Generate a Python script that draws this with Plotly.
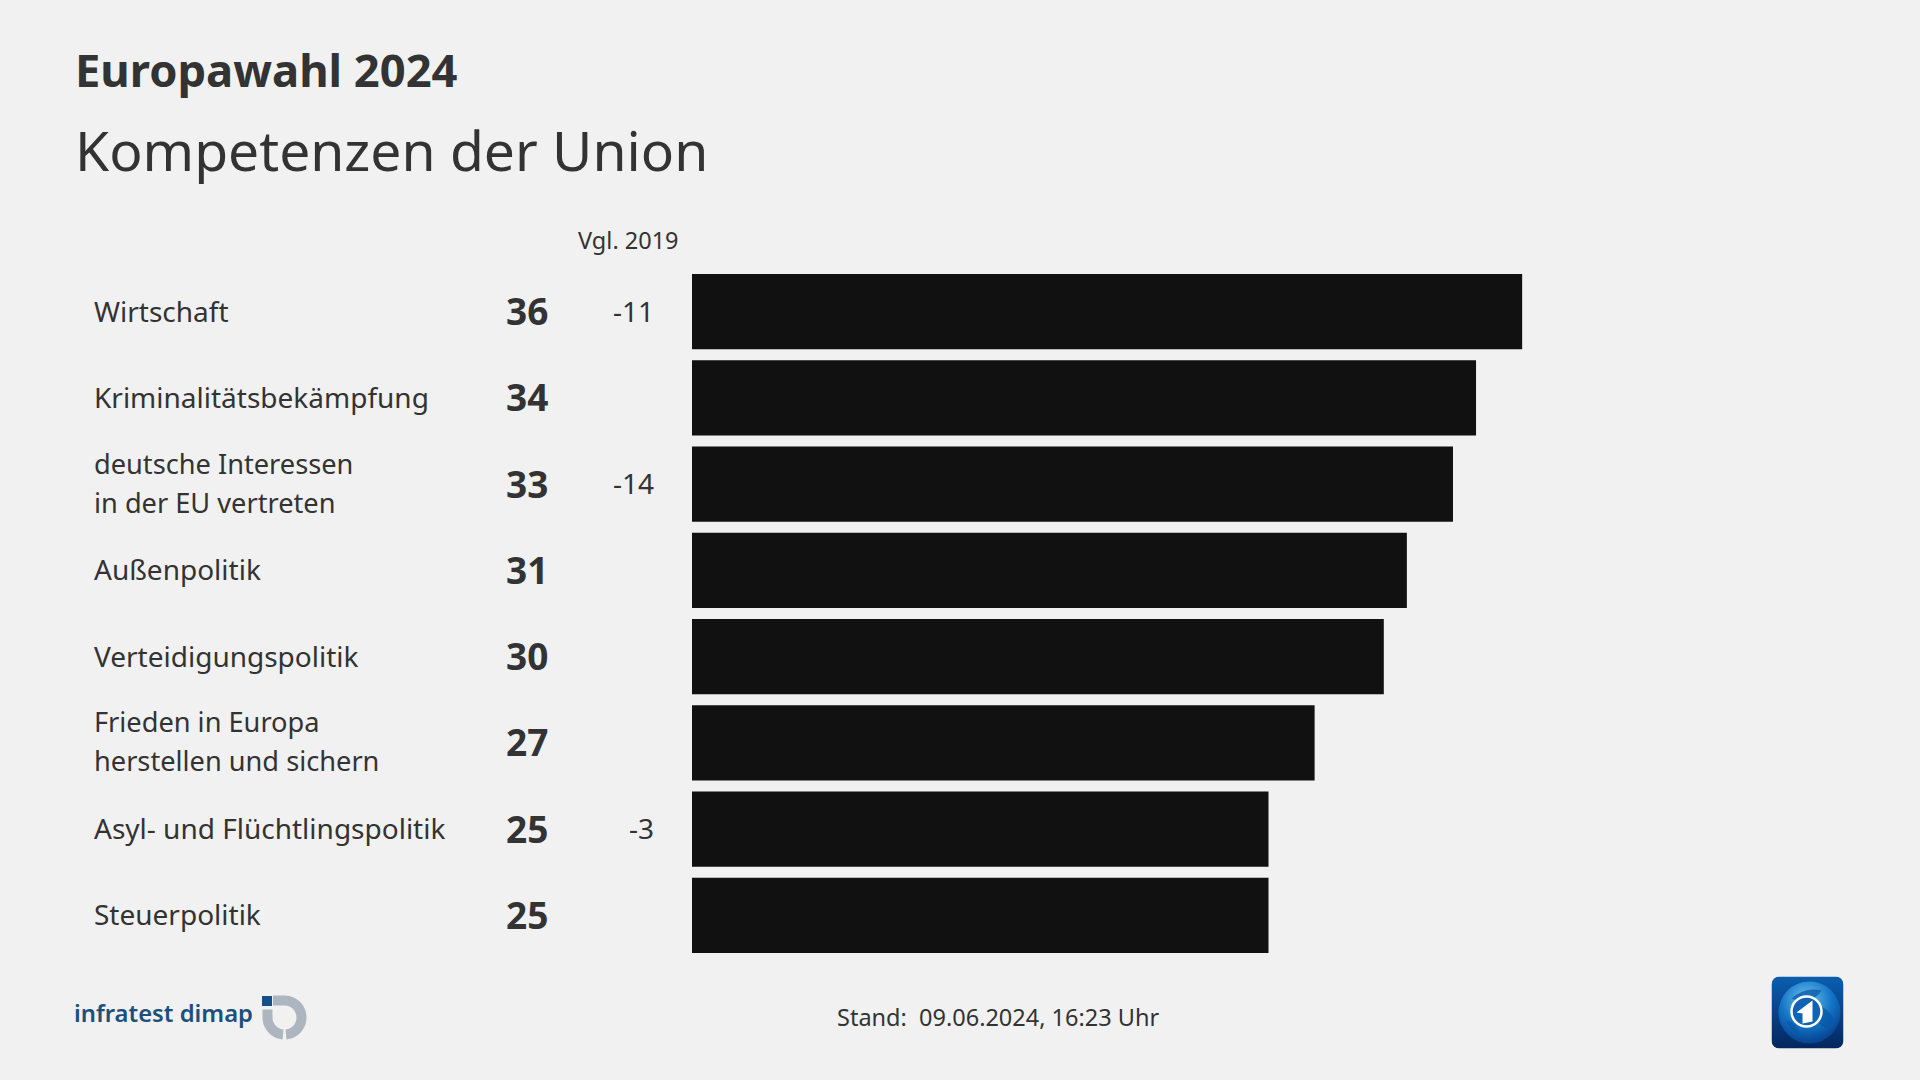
import base64
import math
import plotly.graph_objects as go

categories = ["Wirtschaft", "Kriminalitätsbekämpfung", "deutsche Interessen<br>in der EU vertreten",
              "Außenpolitik", "Verteidigungspolitik", "Frieden in Europa<br>herstellen und sichern",
              "Asyl- und Flüchtlingspolitik", "Steuerpolitik"]
values = [36, 34, 33, 31, 30, 27, 25, 25]
changes = ["-11", "", "-14", "", "", "", "-3", ""]

W, H = 1920, 1080
BG = "#f1f1f1"
TXT = "#333333"
FONT = "Noto Sans"
PX = lambda x: x / W
PY = lambda y: 1 - y / H

L, R, T, B = 692, 1792, 268.5, 958.5

fig = go.Figure(go.Bar(x=values, y=categories, orientation="h", width=0.87,
                       marker=dict(color="#111111", line=dict(width=0)),
                       hoverinfo="skip"))
ann = []
def text(x, y, s, size, anchor="left", yref="paper", bold=False, color=TXT, yshift=0, weight=None):
    f = dict(family=FONT, size=size, color=color)
    if weight:
        f["weight"] = weight
    ann.append(dict(x=x, y=y, text=f"<b>{s}</b>" if bold else s, xref="paper", yref=yref, xanchor=anchor, yanchor="middle",
                    showarrow=False, align="left", yshift=yshift, font=f))

for c, v, d in zip(categories, values, changes):
    parts = c.split("<br>")
    if len(parts) == 2:
        text(PX(91.5), c, parts[0], 27.2, yref="y", yshift=21)
        text(PX(91.5), c, parts[1], 27.2, yref="y", yshift=-18)
    else:
        text(PX(91.5), c, c, 28, yref="y", yshift=1)
    text(PX(550), c, str(v), 37, anchor="right", yref="y", bold=True, yshift=1)
    if d:
        text(PX(656), c, d, 28, anchor="right", yref="y", yshift=1)

text(PX(73), PY(70), "Europawahl 2024", 45.3, bold=True)
text(PX(73), PY(150), "Kompetenzen der Union", 55.2)
text(PX(575.5), PY(240), "Vgl. 2019", 23.5)
text(PX(835), PY(1017), "Stand:  09.06.2024, 16:23 Uhr", 23.5)
text(PX(71.5), PY(1013), "infratest dimap", 23.8, color="#1c4f7c", weight=600)

svg = """<svg xmlns='http://www.w3.org/2000/svg' viewBox='0 0 72 72' width='72' height='72'>
<defs><linearGradient id='b' x1='0' y1='0' x2='0' y2='1'><stop offset='0' stop-color='#0a5fb0'/><stop offset='1' stop-color='#04265e'/></linearGradient>
<radialGradient id='g' cx='.45' cy='.3' r='.7'><stop offset='0' stop-color='#6cc4f0'/><stop offset='.6' stop-color='#1273c4'/><stop offset='1' stop-color='#07428f'/></radialGradient></defs>
<rect width='72' height='72' rx='8' fill='url(#b)'/>
<circle cx='38' cy='36' r='31' fill='url(#g)'/>
<path d='M20 22 Q34 10 50 14 Q44 24 30 26 Z M50 30 Q60 36 64 46 Q54 56 48 48 Z M14 44 Q24 44 28 58 Q20 56 14 44 Z' fill='#0a58a8' opacity='.75'/>
<circle cx='35' cy='35' r='15' fill='#0f63b4' stroke='#ffffff' stroke-width='2.5'/>
<path d='M25 36 L41 24 L41 45 L31 47 L31 37 Z' fill='#ffffff'/>
</svg>"""
src = "data:image/svg+xml;base64," + base64.b64encode(svg.encode()).decode()
images = [dict(source=src, xref="paper", yref="paper", x=PX(1771.5), y=PY(976.5), sizex=72/W, sizey=72/H,
               xanchor="left", yanchor="top", sizing="stretch", layer="above")]

def rect(x0, y0, x1, y1, color):
    return dict(type="rect", xref="paper", yref="paper", x0=PX(x0), x1=PX(x1), y0=PY(y0), y1=PY(y1),
                fillcolor=color, line=dict(width=0))

cx, cy, ro, ri = 284.5, 1017.5, 22, 12
grey = "#adb6bf"
def arc(a0, a1):
    steps = 28
    outer = [(cx + ro*math.cos(math.radians(a0+(a1-a0)*i/steps)), cy + ro*math.sin(math.radians(a0+(a1-a0)*i/steps))) for i in range(steps+1)]
    inner = [(cx + ri*math.cos(math.radians(a1-(a1-a0)*i/steps)), cy + ri*math.sin(math.radians(a1-(a1-a0)*i/steps))) for i in range(steps+1)]
    pts = outer + inner
    return "M" + " L".join(f"{PX(x):.5f},{PY(y):.5f}" for x, y in pts) + " Z"

shapes = [rect(262, 996, 272, 1006, "#15508a"),
          dict(type="path", xref="paper", yref="paper", path=arc(-90, 85), fillcolor=grey, line=dict(width=0)),
          dict(type="path", xref="paper", yref="paper", path=arc(95, 180), fillcolor=grey, line=dict(width=0)),
          rect(273, 995.5, 285, 1005.5, grey),
          rect(262.5, 1009.5, 272.5, 1018, grey)]

fig.update_layout(
    width=W, height=H, autosize=False, paper_bgcolor=BG, plot_bgcolor=BG, showlegend=False,
    margin=dict(l=0, r=0, t=0, b=0),
    xaxis=dict(domain=[L/W, R/W], range=[0, (R-L)/23.06], visible=False, fixedrange=True),
    yaxis=dict(domain=[1-B/H, 1-T/H], autorange="reversed", visible=False, fixedrange=True),
    annotations=ann, images=images, shapes=shapes, font=dict(family=FONT),
)
fig.write_html("out.html", config=dict(displayModeBar=False),
               post_script="document.body.style.margin='0';document.body.style.background='%s';" % BG)
